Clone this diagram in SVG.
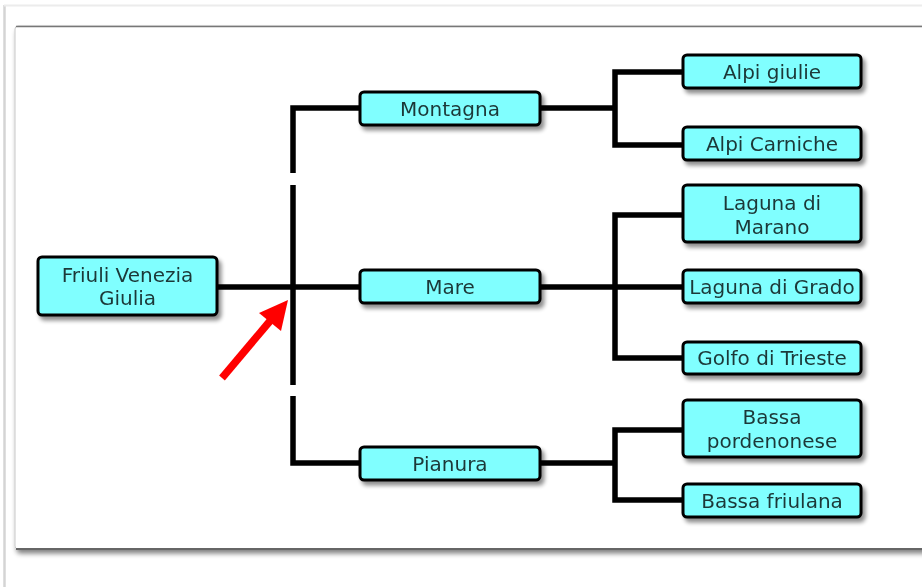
<svg xmlns="http://www.w3.org/2000/svg" width="922" height="587" viewBox="0 0 922 587">
<defs>
<filter id="sh" x="-20%" y="-30%" width="140%" height="170%">
<feGaussianBlur in="SourceAlpha" stdDeviation="2"/>
<feOffset dx="3" dy="4" result="o"/>
<feComponentTransfer><feFuncA type="linear" slope="0.45"/></feComponentTransfer>
<feMerge><feMergeNode/><feMergeNode in="SourceGraphic"/></feMerge>
</filter>
<filter id="psh" x="-5%" y="-5%" width="110%" height="115%">
<feGaussianBlur in="SourceAlpha" stdDeviation="2.5"/>
<feOffset dx="2" dy="4" result="o"/>
<feComponentTransfer><feFuncA type="linear" slope="0.5"/></feComponentTransfer>
<feMerge><feMergeNode/><feMergeNode in="SourceGraphic"/></feMerge>
</filter>
</defs>
<style>
.box{fill:#80ffff;stroke:#000;stroke-width:3;}
.t{font-family:"DejaVu Sans",Verdana,sans-serif;font-size:20px;fill:#1c3838;text-anchor:middle;}
.c{fill:none;stroke:#000;stroke-width:5.5;}
</style>
<rect width="922" height="587" fill="#fff"/>
<line x1="4.5" y1="5" x2="4.5" y2="587" stroke="#d4d4d4" stroke-width="2.5"/>
<line x1="4" y1="5.5" x2="922" y2="5.5" stroke="#ececec" stroke-width="2"/>
<g filter="url(#psh)">
<rect x="15" y="26" width="915" height="523" rx="3" fill="#fff" stroke="#c8c8c8" stroke-width="1"/>
</g>
<line x1="16" y1="26.5" x2="922" y2="26.5" stroke="#777" stroke-width="1.5"/>
<line x1="16" y1="549" x2="922" y2="549" stroke="#666" stroke-width="2"/>
<g id="connectors">
<path class="c" d="M217 287H360"/>
<path class="c" d="M293 173V108H360"/>
<path class="c" d="M293 185V385"/>
<path class="c" d="M293 396V463H360"/>
<path class="c" d="M540 108H615"/>
<path class="c" d="M683 72H615V145H683"/>
<path class="c" d="M540 287H683"/>
<path class="c" d="M683 215H615V358H683"/>
<path class="c" d="M540 463H615"/>
<path class="c" d="M683 430H615V500H683"/>
</g>
<g id="n-fvg" filter="url(#sh)"><rect class="box" x="38" y="257" width="179" height="58" rx="4"/><text class="t" x="127.5" y="282">Friuli Venezia</text><text class="t" x="127.5" y="305">Giulia</text></g>
<g id="n-montagna" filter="url(#sh)"><rect class="box" x="360" y="92" width="180" height="33" rx="4"/><text class="t" x="450" y="116">Montagna</text></g>
<g id="n-mare" filter="url(#sh)"><rect class="box" x="360" y="270" width="180" height="33" rx="4"/><text class="t" x="450" y="294">Mare</text></g>
<g id="n-pianura" filter="url(#sh)"><rect class="box" x="360" y="447" width="180" height="33" rx="4"/><text class="t" x="450" y="471">Pianura</text></g>
<g id="n-alpigiulie" filter="url(#sh)"><rect class="box" x="683" y="55" width="178" height="33" rx="4"/><text class="t" x="772" y="79">Alpi giulie</text></g>
<g id="n-alpicarniche" filter="url(#sh)"><rect class="box" x="683" y="127" width="178" height="33" rx="4"/><text class="t" x="772" y="151">Alpi Carniche</text></g>
<g id="n-marano" filter="url(#sh)"><rect class="box" x="683" y="185" width="178" height="57" rx="4"/><text class="t" x="772" y="210">Laguna di</text><text class="t" x="772" y="234">Marano</text></g>
<g id="n-grado" filter="url(#sh)"><rect class="box" x="683" y="270" width="178" height="33" rx="4"/><text class="t" x="772" y="294">Laguna di Grado</text></g>
<g id="n-trieste" filter="url(#sh)"><rect class="box" x="683" y="342" width="178" height="32" rx="4"/><text class="t" x="772" y="365">Golfo di Trieste</text></g>
<g id="n-pordenonese" filter="url(#sh)"><rect class="box" x="683" y="400" width="178" height="57" rx="4"/><text class="t" x="772" y="424">Bassa</text><text class="t" x="772" y="448">pordenonese</text></g>
<g id="n-friulana" filter="url(#sh)"><rect class="box" x="683" y="484" width="178" height="33" rx="4"/><text class="t" x="772" y="508">Bassa friulana</text></g>
<g id="arrow">
<line x1="222" y1="378" x2="270" y2="321" stroke="#ff0000" stroke-width="7.5"/>
<polygon points="288,300 259,313 281,331" fill="#ff0000"/>
</g>
</svg>
